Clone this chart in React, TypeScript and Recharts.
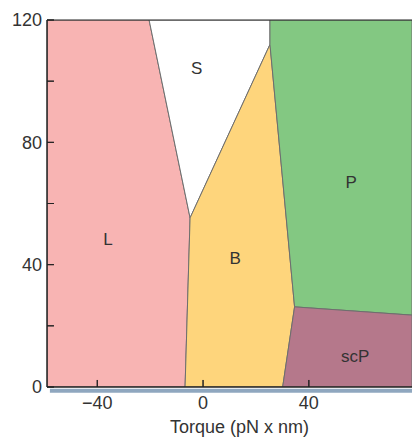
import React from 'react';
import { ScatterChart, Scatter, XAxis, YAxis, ReferenceLine, ReferenceArea } from 'recharts';

// Phase regions (torque pN·nm, force pN vertices)
const regionL = [
  { x: -59, y: 120 }, { x: -20.4, y: 120 }, { x: -4.9, y: 55.3 }, { x: -6.8, y: 0 }, { x: -59, y: 0 },
];
const regionS = [
  { x: -20.4, y: 120 }, { x: 25.3, y: 120 }, { x: 25.3, y: 112 }, { x: -4.9, y: 55.3 },
];
const regionB = [
  { x: -4.9, y: 55.3 }, { x: 25.3, y: 112 }, { x: 34.6, y: 26.2 }, { x: 30.1, y: 0 }, { x: -6.8, y: 0 },
];
const regionP = [
  { x: 25.3, y: 120 }, { x: 79, y: 120 }, { x: 79, y: 23.5 }, { x: 34.6, y: 26.2 }, { x: 25.3, y: 112 },
];
const regionScP = [
  { x: 34.6, y: 26.2 }, { x: 79, y: 23.5 }, { x: 79, y: 0 }, { x: 30.1, y: 0 },
];

const regionLabels = [
  { x: -2.4, y: 104, name: 'S' },
  { x: 56, y: 66.9, name: 'P' },
  { x: -35.9, y: 48.2, name: 'L' },
  { x: 12.1, y: 41.9, name: 'B' },
  { x: 57.5, y: 10.1, name: 'scP' },
];

const xMin = -59;
const xMax = 79;
const xTicks = [-40, 0, 40];
const yTicks = [0, 20, 40, 60, 80, 100, 120];
const yLabelTicks = [0, 40, 80, 120];
const yTickLen = 2.6; // inward tick length in torque units
const xTickLen = 2.3; // inward tick length in force units

const FONT = '"Liberation Sans", Arial, sans-serif';

const polygonLine = (fill: string) => (props: any) => {
  const pts: { x: number; y: number }[] = props.points || [];
  const d = pts.map((p, i) => `${i ? 'L' : 'M'}${p.x},${p.y}`).join('') + 'Z';
  return <path d={d} fill={fill} stroke="#6e6e6e" strokeWidth={1} />;
};

const emptyShape = () => <g />;

const labelShape = (p: any) => (
  <text
    x={p.cx}
    y={p.cy}
    textAnchor="middle"
    dominantBaseline="central"
    fontSize={17}
    fill="#333"
    fontFamily={FONT}
  >
    {p.payload.name}
  </text>
);

const regions = [
  { data: regionL, fill: '#F8B4B3' },
  { data: regionS, fill: '#FFFFFF' },
  { data: regionB, fill: '#FED57C' },
  { data: regionP, fill: '#83C882' },
  { data: regionScP, fill: '#B5788B' },
];

const fmtMinus = (v: number) => String(v).replace('-', '\u2212');

export default function App() {
  return (
    <div style={{ position: 'absolute', left: 0, top: 0 }}>
      <ScatterChart
        width={412}
        height={437}
        margin={{ top: 20, right: 0, left: 0, bottom: 0 }}
        style={{ fontFamily: FONT }}
      >
        <XAxis
          type="number"
          dataKey="x"
          domain={[xMin, xMax]}
          ticks={xTicks}
          allowDataOverflow
          interval={0}
          height={50}
          tickSize={-7}
          tickMargin={16}
          tickFormatter={fmtMinus}
          axisLine={{ stroke: '#222' }}
          tickLine={{ stroke: '#222' }}
          tick={{ fill: '#333', fontSize: 18 }}
          zIndex={900}
          label={{
            value: 'Torque (pN x nm)',
            position: 'insideBottom',
            offset: 4,
            dx: 10,
            fill: '#333',
            fontSize: 18,
          }}
        />
        <YAxis
          type="number"
          dataKey="y"
          domain={[0, 120]}
          ticks={yTicks}
          allowDataOverflow
          interval={0}
          width={47}
          tickSize={-7}
          tickMargin={12}
          tickFormatter={(v: number) => (yLabelTicks.includes(v) ? String(v) : '')}
          axisLine={{ stroke: '#222' }}
          tickLine={{ stroke: '#222' }}
          tick={{ fill: '#333', fontSize: 18 }}
          zIndex={900}
        />
        {regions.map((r, i) => (
          <Scatter
            key={i}
            data={r.data}
            fill={r.fill}
            line={polygonLine(r.fill)}
            lineType="joint"
            shape={emptyShape}
            isAnimationActive={false}
            zIndex={10}
          />
        ))}
        <Scatter data={regionLabels} shape={labelShape} isAnimationActive={false} zIndex={20} />
        <ReferenceLine y={120} stroke="#222" strokeWidth={1.2} zIndex={900} />
        <ReferenceLine y={0} stroke="#222" strokeWidth={1} zIndex={900} />
        <ReferenceLine x={xMin} stroke="#222" strokeWidth={1} zIndex={900} />
        {yTicks.map((t) => (
          <ReferenceLine
            key={`yt${t}`}
            segment={[{ x: xMin, y: t }, { x: xMin + yTickLen, y: t }]}
            stroke="#222"
            strokeWidth={1}
            zIndex={900}
          />
        ))}
        {xTicks.map((t) => (
          <ReferenceLine
            key={`xt${t}`}
            segment={[{ x: t, y: 0 }, { x: t, y: xTickLen }]}
            stroke="#222"
            strokeWidth={1}
            zIndex={900}
          />
        ))}
        <ReferenceArea
          x1={-57.9}
          x2={xMax}
          y1={-1.9}
          y2={-0.6}
          ifOverflow="visible"
          fill="#8FA7BF"
          fillOpacity={1}
          stroke="none"
          zIndex={900}
        />
      </ScatterChart>
    </div>
  );
}
